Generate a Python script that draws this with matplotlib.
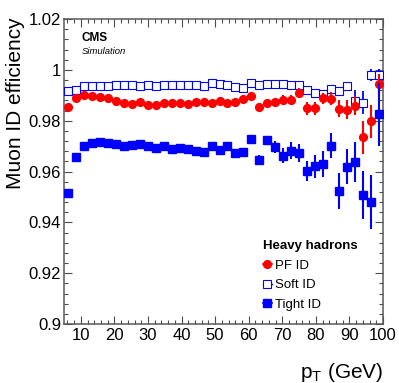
import numpy as np
import matplotlib
matplotlib.use("Agg")
import matplotlib.pyplot as plt
from matplotlib.lines import Line2D
import matplotlib.ticker as plticker

plt.rcParams['font.family'] = ['Liberation Sans', 'DejaVu Sans']
plt.rcParams['mathtext.fontset'] = 'custom'
plt.rcParams['mathtext.rm'] = 'Liberation Sans'

# 40 bins of 2.375 GeV between 5 and 100 GeV
pt_lo = 5.0
pt_hi = 100.0
n_bins = 40

pf_eff = [0.98543, 0.98896, 0.99000, 0.98961, 0.98935, 0.98883, 0.98791, 0.98700,
          0.98648, 0.98726, 0.98621, 0.98608, 0.98700, 0.98713, 0.98713, 0.98674,
          0.98739, 0.98739, 0.98713, 0.98765, 0.98713, 0.98739, 0.98844, 0.98961,
          0.98556, 0.98713, 0.98726, 0.98817, 0.98817, 0.99092, 0.98491, 0.98491,
          0.98883, 0.98870, 0.98478, 0.98425, 0.98582, 0.97354, 0.97981, 0.99458]
pf_err = [0.0004, 0.0004, 0.0004, 0.0004, 0.0004, 0.0004, 0.0004, 0.0004,
          0.0005, 0.0005, 0.0005, 0.0005, 0.0005, 0.0005, 0.0006, 0.0006,
          0.0006, 0.0007, 0.0007, 0.0008, 0.0008, 0.0009, 0.0010, 0.0011,
          0.0012, 0.0013, 0.0014, 0.0018, 0.0020, 0.0020, 0.0026, 0.0026,
          0.0022, 0.0024, 0.0033, 0.0037, 0.0037, 0.0065, 0.0065, 0.0039]

soft_eff = [0.99170, 0.99223, 0.99353, 0.99379, 0.99379, 0.99379, 0.99392, 0.99405,
            0.99392, 0.99366, 0.99405, 0.99379, 0.99419, 0.99392, 0.99392, 0.99405,
            0.99392, 0.99379, 0.99471, 0.99458, 0.99419, 0.99327, 0.99275, 0.99497,
            0.99419, 0.99458, 0.99432, 0.99445, 0.99392, 0.99419, 0.99196, 0.99105,
            0.99040, 0.99236, 0.99170, 0.99366, 0.98778, 0.98713, 0.99797, 0.99797]
soft_err = [0.0003, 0.0003, 0.0003, 0.0003, 0.0003, 0.0003, 0.0003, 0.0003,
            0.0003, 0.0003, 0.0003, 0.0003, 0.0003, 0.0003, 0.0004, 0.0004,
            0.0004, 0.0004, 0.0004, 0.0005, 0.0005, 0.0005, 0.0006, 0.0006,
            0.0006, 0.0007, 0.0007, 0.0008, 0.0008, 0.0009, 0.0010, 0.0011,
            0.0012, 0.0013, 0.0016, 0.0016, 0.0042, 0.0046, 0.0024, 0.0024]

tight_eff = [0.95159, 0.96570, 0.97013, 0.97107, 0.97170, 0.97119, 0.97068, 0.96989,
             0.97040, 0.97080, 0.96989, 0.96935, 0.97013, 0.96872, 0.96911, 0.96884,
             0.96817, 0.96754, 0.96989, 0.96844, 0.97013, 0.96727, 0.96778, 0.97276,
             0.96452, 0.97225, 0.96974, 0.96621, 0.96817, 0.96715, 0.96021, 0.96205,
             0.96284, 0.97013, 0.95237, 0.96190, 0.96374, 0.95080, 0.94794, 0.98256]
tight_err = [0.0005, 0.0005, 0.0005, 0.0005, 0.0005, 0.0005, 0.0005, 0.0005,
             0.0006, 0.0006, 0.0006, 0.0006, 0.0007, 0.0007, 0.0008, 0.0008,
             0.0009, 0.0010, 0.0012, 0.0012, 0.0013, 0.0016, 0.0014, 0.0016,
             0.0021, 0.0018, 0.0024, 0.0029, 0.0033, 0.0035, 0.0039, 0.0046,
             0.0052, 0.0050, 0.0071, 0.0068, 0.0077, 0.0094, 0.0106, 0.0124]

edges = np.linspace(pt_lo, pt_hi, n_bins + 1)
pt = 0.5 * (edges[1:] + edges[:-1])

fig = plt.figure(figsize=(3.99, 3.83), dpi=100)
ax = fig.add_axes([64/399, 1 - 324/383, 319/399, 305/383])

ax.errorbar(pt, soft_eff, yerr=soft_err, fmt='s', ms=5.2, mfc='white', mec='#0000ff',
            mew=0.8, ecolor='#0000ff', elinewidth=1.3, capsize=0, zorder=3)
ax.errorbar(pt, pf_eff, yerr=pf_err, fmt='o', ms=5.6, color='#ff0000',
            ecolor='#ff0000', elinewidth=1.5, capsize=0, zorder=4)
ax.errorbar(pt, tight_eff, yerr=tight_err, fmt='s', ms=5.4, color='#0000ff',
            ecolor='#0000ff', elinewidth=1.5, capsize=0, zorder=5)

ax.set_xlim(pt_lo, pt_hi)
ax.set_ylim(0.9, 1.02)
ax.xaxis.set_major_locator(plticker.FixedLocator([10, 20, 30, 40, 50, 60, 70, 80, 90, 100]))
ax.xaxis.set_minor_locator(plticker.MultipleLocator(2))
ax.yaxis.set_major_locator(plticker.MultipleLocator(0.02))
ax.yaxis.set_minor_locator(plticker.MultipleLocator(0.004))
ax.yaxis.set_major_formatter(plticker.FuncFormatter(lambda v, p: '%g' % round(v, 3)))

ax.tick_params(which='both', direction='in', top=True, right=True, colors='0.3',
               labelcolor='black', labelsize=12, width=0.8)
ax.tick_params(which='major', length=6)
ax.tick_params(which='minor', length=3)
ax.tick_params(axis='x', pad=3)
ax.tick_params(axis='y', pad=2)
for s in ax.spines.values():
    s.set_color('0.35')
    s.set_linewidth(1.1)

fig.text(16/399, 1 - 17/383, 'Muon ID efficiency', rotation=90, ha='center', va='top',
         fontsize=15)
fig.text(383/399, 1 - 378/383, r'p$_\mathregular{T}$ (GeV)', ha='right', va='baseline',
         fontsize=15)

ax.text(0.055, 0.937, 'CMS', transform=ax.transAxes, fontsize=8.5, fontweight='bold',
        va='center', ha='left')
ax.text(0.055, 0.895, 'Simulation', transform=ax.transAxes, fontsize=6.8,
        style='italic', va='center', ha='left')

handles = [Line2D([], [], marker='o', color='#ff0000', ms=5.6, lw=1.2),
           Line2D([], [], marker='s', color='#0000ff', mfc='white', ms=5.2, mew=0.8, lw=1.0),
           Line2D([], [], marker='s', color='#0000ff', ms=5.4, lw=1.2)]
leg = ax.legend(handles, ['PF ID', 'Soft ID', 'Tight ID'], loc='lower left',
                bbox_to_anchor=(0.615, 0.035), frameon=False, fontsize=9.5,
                title='Heavy hadrons', title_fontproperties={'weight': 'bold', 'size': 9.5},
                alignment='left', handlelength=0.7, handletextpad=0.25,
                labelspacing=0.55, borderpad=0.2, borderaxespad=0)

fig.savefig('out.png', dpi=100)
